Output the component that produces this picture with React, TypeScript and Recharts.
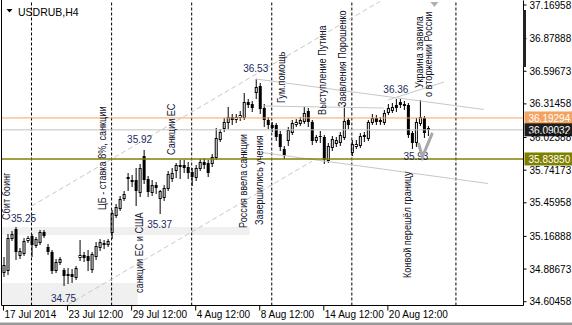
import React from "react";
import {
  ComposedChart,
  Bar,
  XAxis,
  YAxis,
  ReferenceLine,
  ReferenceArea,
  ReferenceDot,
} from "recharts";

// USDRUB H4, 17 Jul - 22 Aug 2014
const opens = [
  34.861, 34.878, 35.155, 35.232, 35.008, 35.025, 35.138, 35.172, 35.094, 35.12,
  35.207, 35.077, 35.034, 34.878, 34.948, 34.878, 34.835, 34.844, 34.818, 34.99,
  35.008, 34.999, 34.887, 34.999, 35.077, 35.103, 35.103, 35.207, 35.354, 35.414,
  35.501, 35.682, 35.657, 35.657, 35.553, 35.864, 35.665, 35.553, 35.614, 35.501,
  35.51, 35.588, 35.674, 35.743, 35.777, 35.786, 35.769, 35.726, 35.682, 35.76,
  35.812, 35.803, 35.803, 35.855, 36.011, 36.106, 36.158, 36.201, 36.184, 36.201,
  36.201, 36.331, 36.313, 36.417, 36.469, 36.279, 36.175, 36.132, 36.132, 36.054,
  35.925, 36.002, 36.071, 36.141, 36.149, 36.167, 36.253, 36.158, 36.002, 36.037,
  36.028, 35.83, 35.942, 35.977, 35.985, 36.028, 36.175, 35.899, 35.951, 35.959,
  36.045, 36.019, 36.158, 36.193, 36.175, 36.158, 36.244, 36.262, 36.305, 36.331,
  36.313, 36.305, 36.062, 35.985, 36.149, 36.193, 36.106,
];
const highs = [
  34.99, 35.19, 35.215, 35.25, 35.07, 35.155, 35.172, 35.19, 35.163, 35.224,
  35.224, 35.103, 35.051, 34.973, 34.99, 34.896, 34.896, 34.887, 34.913, 35.138,
  35.034, 35.051, 35.034, 35.12, 35.146, 35.138, 35.146, 35.397, 35.449, 35.518,
  35.561, 35.717, 35.7, 35.76, 35.795, 35.92, 35.691, 35.657, 35.639, 35.57,
  35.614, 35.734, 35.76, 35.803, 35.83, 35.83, 35.812, 35.76, 35.786, 35.838,
  35.847, 35.83, 35.881, 36.106, 36.097, 36.193, 36.287, 36.227, 36.227, 36.253,
  36.408, 36.357, 36.339, 36.53, 36.495, 36.313, 36.201, 36.158, 36.149, 36.08,
  35.951, 36.115, 36.175, 36.184, 36.201, 36.287, 36.279, 36.175, 36.045, 36.08,
  36.045, 35.977, 36.037, 36.028, 36.071, 36.305, 36.193, 36.002, 36.002, 36.062,
  36.071, 36.175, 36.227, 36.218, 36.201, 36.262, 36.313, 36.322, 36.36, 36.357,
  36.339, 36.322, 36.08, 36.193, 36.348, 36.21, 36.123,
];
const lows = [
  34.826, 34.844, 35.138, 34.973, 34.982, 35.008, 35.12, 34.999, 35.077, 35.103,
  35.163, 35.017, 34.852, 34.861, 34.93, 34.75, 34.766, 34.775, 34.801, 34.965,
  34.956, 34.878, 34.861, 34.973, 35.051, 35.068, 35.086, 35.155, 35.336, 35.397,
  35.484, 35.57, 35.605, 35.44, 35.518, 35.631, 35.518, 35.527, 35.544, 35.37,
  35.484, 35.57, 35.648, 35.682, 35.674, 35.726, 35.674, 35.614, 35.657, 35.743,
  35.76, 35.691, 35.777, 35.838, 35.994, 36.08, 36.106, 36.141, 36.158, 36.175,
  36.184, 36.287, 36.253, 36.365, 36.236, 36.123, 36.106, 36.08, 36.002, 35.916,
  35.847, 35.959, 36.054, 36.123, 36.132, 36.149, 36.123, 35.968, 35.985, 35.985,
  35.803, 35.812, 35.916, 35.951, 35.959, 36.011, 36.106, 35.873, 35.934, 35.942,
  35.994, 36.002, 36.141, 36.141, 36.141, 36.141, 36.227, 36.244, 36.253, 36.287,
  36.27, 36.028, 35.93, 35.951, 36.132, 36.028, 36.045,
];
const closes = [
  34.921, 35.155, 35.19, 35.034, 35.043, 35.129, 35.155, 35.094, 35.146, 35.207,
  35.172, 35.034, 34.87, 34.948, 34.973, 34.826, 34.844, 34.818, 34.896, 35.008,
  34.982, 34.956, 35.017, 35.086, 35.12, 35.112, 35.129, 35.371, 35.423, 35.492,
  35.535, 35.665, 35.639, 35.561, 35.76, 35.657, 35.553, 35.614, 35.588, 35.561,
  35.588, 35.708, 35.717, 35.786, 35.786, 35.76, 35.717, 35.682, 35.76, 35.812,
  35.786, 35.717, 35.855, 36.019, 36.071, 36.158, 36.201, 36.175, 36.201, 36.218,
  36.331, 36.305, 36.279, 36.46, 36.27, 36.175, 36.132, 36.106, 36.028, 35.942,
  35.864, 36.089, 36.149, 36.158, 36.175, 36.236, 36.158, 35.994, 36.028, 36.028,
  35.83, 35.951, 36.011, 36.002, 36.045, 36.167, 36.132, 35.968, 35.968, 36.037,
  36.028, 36.158, 36.193, 36.158, 36.158, 36.236, 36.279, 36.287, 36.279, 36.305,
  36.296, 36.045, 35.977, 36.158, 36.201, 36.062, 36.09,
];

const SLOTS = 130;
const dateTicks = [0, 16, 32, 48, 64, 80, 96];
const dateLabels = [
  "17 Jul 2014",
  "23 Jul 12:00",
  "29 Jul 12:00",
  "4 Aug 12:00",
  "8 Aug 12:00",
  "14 Aug 12:00",
  "20 Aug 12:00",
];
const priceTicks = [
  37.16958, 36.87888, 36.59673, 36.31458, 36.02388, 35.74173, 35.45958, 35.16888,
  34.88673, 34.60458,
];
const weekStarts = [7, 27, 47, 67, 87, 113];

const levelPrices = [36.19294, 36.09032, 35.8385];
const levelColors = ["#f4a460", "#c0c0c0", "#808000"];
const levelBoxes = ["#f4a460", "#1e1e1e", "#808000"];

// shaded zones
const zoneFrom = [0, 0];
const zoneTo = [61, 33];
const zoneTop = [35.25, 34.766];
const zoneBottom = [35.181, 34.5717];

// trend lines
const trendFrom = [7, 16, 63, 64, 65, 96];
const trendFromP = [35.431, 34.576, 36.53, 35.897, 36.296, 36.348];
const trendTo = [94, 77, 120, 121, 95, 110];
const trendToP = [37.2, 35.818, 36.266, 35.626, 36.279, 36.504];
const trendDashed = [true, true, false, false, false, false];

// price marks
const markIdx = [2, 12, 31, 36, 60, 95, 100];
const markP = [35.294, 34.602, 35.977, 35.242, 36.59, 36.409, 35.83];
const markText = ["35.25", "34.75", "35.92", "35.37", "36.53", "36.36", "35.93"];

// news captions (vertical)
const capIdx = [1, 26, 35, 43, 61, 65, 70, 81, 86, 105, 107, 102];
const capP = [
  35.311, 35.397, 34.68, 35.873, 35.242, 35.268, 36.322, 36.219, 36.288, 36.452,
  36.374, 34.809,
];
const capDx = [2.5, -1.5, -0.5, -0.5, -0.5, -0.5, 1.5, -1.5, -1.5, -0.5, 0.5, -0.5];
const capText = [
  "Сбит боинг",
  "ЦБ - ставка 8%, санкции",
  "санкции ЕС и США",
  "Санкции ЕС",
  "Россия ввела санкции",
  "Завершились учения",
  "Гум.помощь",
  "Выступление Путина",
  "Заявления Порошенко",
  "Украина заявила",
  "о вторжении России",
  "Конвой перешёл границу",
];

const FONT = "'Liberation Sans', Arial, sans-serif";

function Candle(props: any) {
  const { x, y, width, height, payload } = props;
  if (!payload || payload.h == null) return null;
  const top = Math.min(y, y + height);
  const bot = Math.max(y, y + height);
  const span = payload.h - payload.l || 1;
  const py = (v: number) => top + ((payload.h - v) / span) * (bot - top);
  const cx = x + width / 2;
  const bull = payload.c >= payload.o;
  const b1 = Math.round(Math.min(py(payload.o), py(payload.c)));
  const b2 = Math.round(Math.max(py(payload.o), py(payload.c)));
  return (
    <g>
      <line x1={cx} x2={cx} y1={Math.round(top)} y2={Math.round(bot) + 1} stroke="#000" />
      {bull ? (
        <rect x={cx - 1} y={b1 + 0.5} width={2} height={Math.max(b2 - b1, 0)} fill="#fff" stroke="#000" />
      ) : (
        <rect x={cx - 1.5} y={b1} width={3} height={Math.max(b2 - b1, 1)} fill="#000" />
      )}
    </g>
  );
}

function DateTick(props: any) {
  const { x, y, payload } = props;
  const n = dateTicks.indexOf(payload.value);
  if (n < 0) return null;
  return (
    <g>
      <line x1={x} x2={x} y1={y} y2={y + 5} stroke="#000" />
      <text x={x + 1} y={y + 12.5} fontSize={10} fontFamily={FONT} fill="#000">
        {dateLabels[n]}
      </text>
    </g>
  );
}

const boxLabel = (n: number) => (p: any) => {
  const vb = p.viewBox;
  if (!vb) return null;
  const left = vb.x + vb.width + 1;
  return (
    <g>
      <rect x={left} y={vb.y - 6.5} width={49} height={13} fill={levelBoxes[n]} />
      <text x={left + 4} y={vb.y + 4} fontSize={10} fontFamily={FONT} fill="#fff">
        {levelPrices[n].toFixed(5)}
      </text>
    </g>
  );
};

export default function App() {
  const rows = Array.from({ length: SLOTS }, (_, i) =>
    i < opens.length
      ? { i, o: opens[i], h: highs[i], l: lows[i], c: closes[i], range: [lows[i], highs[i]] }
      : { i, range: null }
  );

  return (
    <div style={{ position: "relative", width: 572, height: 325, background: "#fff" }}>
      <style>{"body{margin:0}"}</style>
      <ComposedChart
        width={572}
        height={325}
        data={rows}
        margin={{ top: 0.5, right: 0, bottom: 0, left: 1.5 }}
      >
        {zoneFrom.map((f, n) => (
          <ReferenceArea
            key={"z" + n}
            x1={f}
            x2={zoneTo[n]}
            y1={zoneBottom[n]}
            y2={zoneTop[n]}
            fill="#f0f0f0"
            fillOpacity={1}
            stroke="none"
            ifOverflow="visible"
          />
        ))}
        <XAxis
          dataKey="i"
          type="category"
          interval={0}
          height={19.5}
          padding={{ left: 0, right: 1.5 }}
          tickSize={0}
          tickMargin={0}
          tickLine={false}
          axisLine={{ stroke: "#000" }}
          tick={<DateTick />}
        />
        <YAxis
          orientation="right"
          type="number"
          width={48.5}
          domain={[34.57163, 37.20848]}
          ticks={priceTicks}
          interval={0}
          allowDataOverflow
          tickSize={3}
          tickMargin={3}
          axisLine={{ stroke: "#000" }}
          tickLine={{ stroke: "#000" }}
          tick={{ fontSize: 10, fontFamily: FONT, fill: "#000" }}
          tickFormatter={(v: number) => v.toFixed(5)}
        />
        {weekStarts.map((k) => (
          <ReferenceLine key={"w" + k} x={k} stroke="#000" strokeDasharray="3 2" />
        ))}
        {trendFrom.map((k, n) => (
          <ReferenceLine
            key={"t" + n}
            segment={[
              { x: k, y: trendFromP[n] },
              { x: trendTo[n], y: trendToP[n] },
            ]}
            stroke="#c8c8c8"
            strokeDasharray={trendDashed[n] ? "5 3" : undefined}
            ifOverflow="visible"
          />
        ))}
        {levelPrices.map((p, n) => (
          <ReferenceLine
            key={"l" + n}
            y={p}
            stroke={levelColors[n]}
            strokeWidth={n === 2 ? 1.5 : 1}
            label={boxLabel(n)}
          />
        ))}
        <Bar dataKey="range" barSize={3} shape={Candle} isAnimationActive={false} />
        {markIdx.map((k, n) => (
          <ReferenceDot
            key={"m" + n}
            x={k}
            y={markP[n]}
            ifOverflow="visible"
            shape={(p: any) => (
              <text x={p.cx - 0.5} y={p.cy} fontSize={10} fontFamily={FONT} fill="#1c2a5e">
                {markText[n]}
              </text>
            )}
          />
        ))}
        {capIdx.map((k, n) => (
          <ReferenceDot
            key={"c" + n}
            x={k}
            y={capP[n]}
            ifOverflow="visible"
            shape={(p: any) => {
              const bx = p.cx + capDx[n];
              return (
                <text
                  x={0}
                  y={0}
                  transform={`translate(${bx} ${p.cy}) rotate(-90) scale(0.87 1)`}
                  fontSize={10.5}
                  fontFamily={FONT}
                  fill="#10122a"
                >
                  {capText[n]}
                </text>
              );
            }}
          />
        ))}
        <ReferenceDot
          x={105}
          y={35.9}
          ifOverflow="visible"
          shape={(p: any) => (
            <polyline
              points={`${p.cx - 5.5},${p.cy - 9} ${p.cx - 1.5},${p.cy + 5} ${p.cx + 8.5},${p.cy - 19}`}
              fill="none"
              stroke="#a8a8a8"
              strokeWidth={3}
            />
          )}
        />
        <ReferenceDot
          x={107}
          y={37.17}
          ifOverflow="visible"
          shape={(p: any) => (
            <polygon
              points={`${p.cx - 1.5},${p.cy - 3} ${p.cx + 6.5},${p.cy - 3} ${p.cx + 2.5},${p.cy + 2}`}
              fill="#b0b0b0"
            />
          )}
        />
      </ComposedChart>
      <svg
        width={572}
        height={325}
        style={{ position: "absolute", left: 0, top: 0, pointerEvents: "none" }}
      >
        <line x1={1.5} x2={1.5} y1={0} y2={305.5} stroke="#000" />
        <polygon points="6.5,9 12.5,9 9.5,12.5" fill="#000" />
        <text x={18} y={15.5} fontSize={10.5} fontFamily={FONT} fill="#000">
          USDRUB,H4
        </text>
        <rect x={523} y={10} width={3} height={57} fill="#222" />
        <rect x={0} y={322.5} width={572} height={2.5} fill="#9a9a9a" />
      </svg>
    </div>
  );
}
